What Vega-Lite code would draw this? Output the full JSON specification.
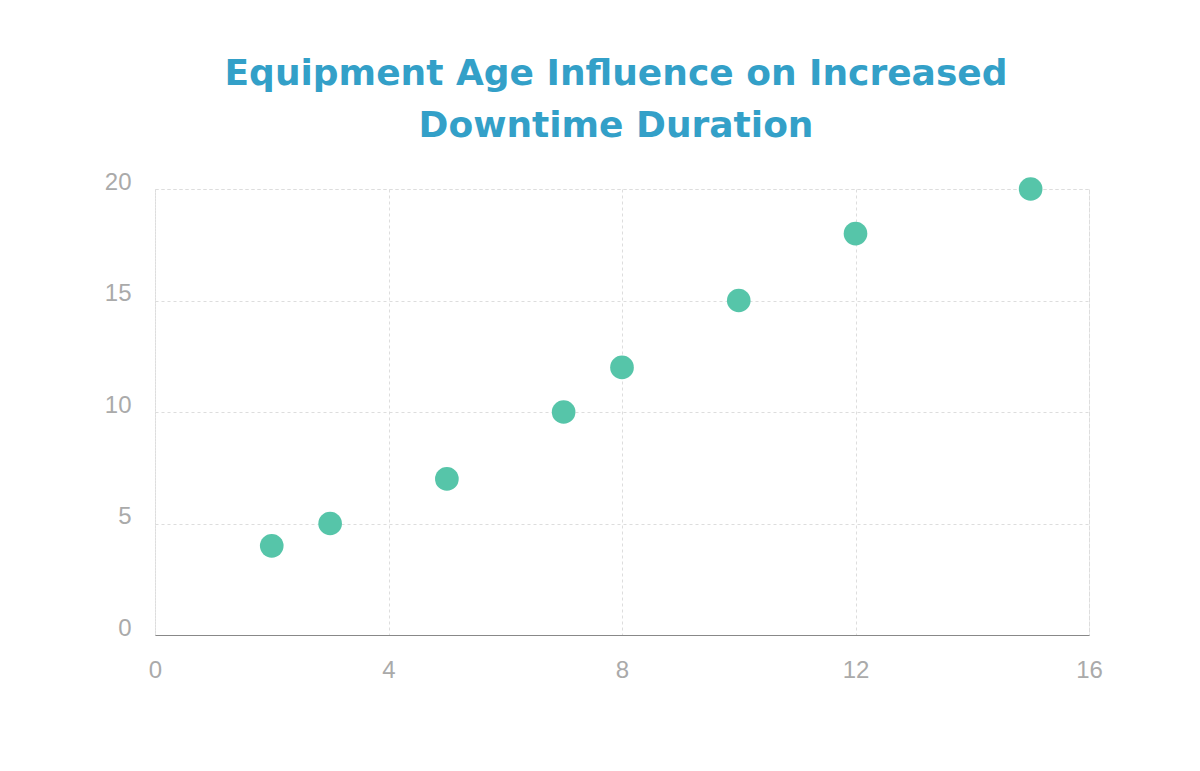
{
  "$schema": "https://vega.github.io/schema/vega-lite/v6.json",
  "width": 934,
  "height": 446,
  "autosize": "none",
  "padding": {"left": 155, "top": 189, "right": 111, "bottom": 136},
  "background": "white",
  "title": {
    "text": ["Equipment Age Influence on Increased", "Downtime Duration"],
    "font": "DejaVu Sans",
    "fontSize": 36,
    "fontWeight": "bold",
    "color": "#33a0c8",
    "lineHeight": 52,
    "anchor": "middle",
    "dx": -6,
    "offset": 25
  },
  "data": {
    "values": [
      {"age": 2, "downtime": 4},
      {"age": 3, "downtime": 5},
      {"age": 5, "downtime": 7},
      {"age": 7, "downtime": 10},
      {"age": 8, "downtime": 12},
      {"age": 10, "downtime": 15},
      {"age": 12, "downtime": 18},
      {"age": 15, "downtime": 20}
    ]
  },
  "mark": {"type": "circle", "size": 560, "color": "#56c5a9", "opacity": 1},
  "encoding": {
    "x": {
      "field": "age",
      "type": "quantitative",
      "scale": {"domain": [0, 16], "nice": false},
      "axis": {
        "title": null,
        "values": [0, 4, 8, 12, 16],
        "grid": true,
        "gridColor": "#dddddd",
        "gridDash": [3, 3],
        "domain": true,
        "domainColor": "#888888",
        "ticks": false,
        "labelFlush": false,
        "labelFont": "Liberation Sans",
        "labelFontSize": 24,
        "labelColor": "#aaaaaa",
        "labelPadding": 23
      }
    },
    "y": {
      "field": "downtime",
      "type": "quantitative",
      "scale": {"domain": [0, 20], "nice": false},
      "axis": {
        "title": null,
        "values": [0, 5, 10, 15, 20],
        "grid": true,
        "gridColor": "#dddddd",
        "gridDash": [3, 3],
        "domain": false,
        "ticks": false,
        "labelFlush": false,
        "labelFont": "Liberation Sans",
        "labelFontSize": 24,
        "labelColor": "#aaaaaa",
        "labelPadding": 24,
        "labelBaseline": "alphabetic"
      }
    }
  },
  "config": {
    "view": {"stroke": "#dddddd", "strokeDash": [3, 3]}
  }
}
